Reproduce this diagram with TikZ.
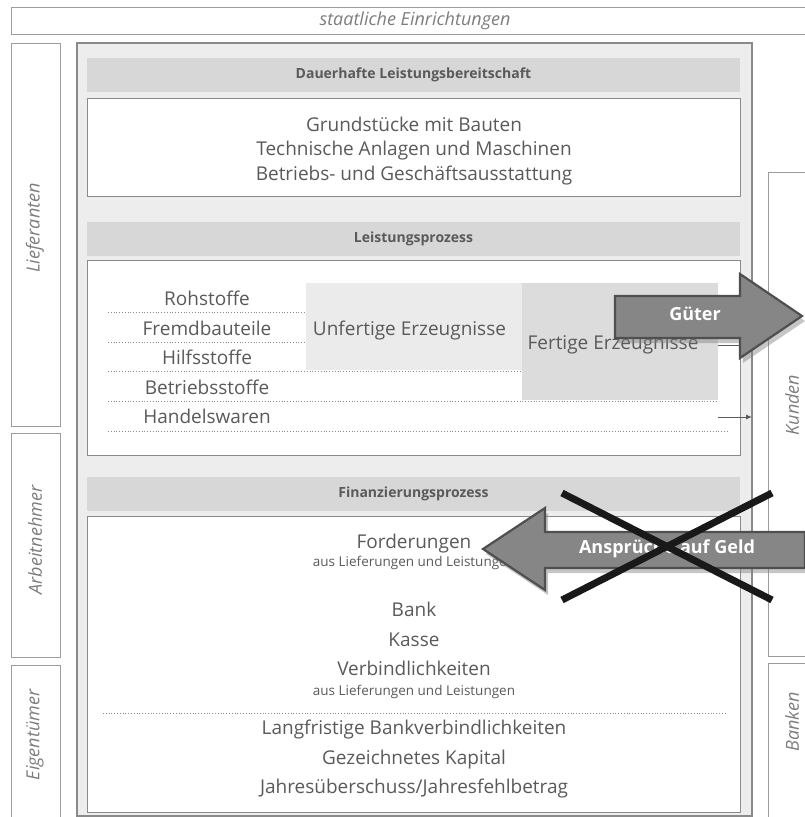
\documentclass[tikz,border=0pt]{standalone}
\usepackage{fontspec}
\setmainfont{Open Sans}
\usetikzlibrary{positioning,shadows,arrows.meta}

\definecolor{rahmen}{HTML}{8A8A8A}
\definecolor{flaeche}{HTML}{EDEDED}
\definecolor{kopf}{HTML}{D7D7D7}
\definecolor{schrift}{HTML}{5A5A5A}
\definecolor{kursiv}{HTML}{7D7D7D}
\definecolor{zelle}{HTML}{EBEBEB}
\definecolor{zelledunkel}{HTML}{DCDCDC}
\definecolor{pfeil}{HTML}{868686}
\definecolor{pfeilrand}{HTML}{4F4F4F}

\tikzset{
	aussen/.style={draw=rahmen!85, line width=0.8pt},
	kopfzeile/.style={fill=kopf, text=schrift, font=\fontsize{14}{16}\selectfont\bfseries, minimum width=653pt, minimum height=34pt, inner sep=0pt},
	feld/.style={fill=white, draw=rahmen, line width=1pt},
	eintrag/.style={text=schrift, font=\fontsize{19}{22}\selectfont, inner sep=0pt, text height=14pt, text depth=4pt},
	zusatz/.style={text=schrift, font=\fontsize{13.5}{15}\selectfont, inner sep=0pt, text height=10pt, text depth=3pt},
	partner/.style={text=kursiv, font=\fontsize{18}{20}\selectfont\itshape, inner sep=0pt},
	punktlinie/.style={draw=rahmen, dotted, line width=0.8pt},
	grosspfeil/.style={fill=pfeil, draw=pfeilrand, line width=2.2pt, line join=miter, drop shadow={opacity=0.45, shadow xshift=3pt, shadow yshift=-5pt}},
	pfeiltext/.style={text=white, font=\fontsize{18}{20}\selectfont\bfseries, inner sep=0pt},
}

\begin{document}
\begin{tikzpicture}[x=1pt,y=-1pt]
	\useasboundingbox (0,0) rectangle (805,817);
	\clip (0,0) rectangle (805,817);

	\draw[aussen] (11,7) rectangle (812,34);
	\node[partner] (se) at (415,21) {staatliche Einrichtungen};

	\draw[aussen] (11,43) rectangle (60,426);
	\node[partner, rotate=90] (lief) at (35,228) {Lieferanten};
	\draw[aussen] (11,433) rectangle (60,657);
	\node[partner, rotate=90] (arb) at (35,540) {Arbeitnehmer};
	\draw[aussen] (11,665) rectangle (60,822);
	\node[partner, rotate=90] (eig) at (35,735) {Eigentümer};

	\draw[aussen] (768,172) rectangle (812,656);
	\node[partner, rotate=90] (kund) at (792,405) {Kunden};
	\draw[aussen] (768,663) rectangle (812,822);
	\node[partner, rotate=90] (bank) at (792,722) {Banken};

	\draw[draw=rahmen, line width=1.2pt, fill=flaeche] (77,43) rectangle (752,816);

	\node[kopfzeile] (h1) at (413.5,75) {Dauerhafte Leistungsbereitschaft};
	\draw[feld] (87,98) rectangle (740,196);
	\node[eintrag] (a1) at (414,126) {Grundstücke mit Bauten};
	\node[eintrag, below=6.5pt of a1] (a2) {Technische Anlagen und Maschinen};
	\node[eintrag, below=6.5pt of a2] (a3) {Betriebs- und Geschäftsausstattung};

	\node[kopfzeile] (h2) at (413.5,238.5) {Leistungsprozess};
	\draw[feld] (87,260) rectangle (740,455);
	\node[fill=zelle, minimum width=216pt, minimum height=87pt, inner sep=0pt] (uf) at (414,326.5) {};
	\node[fill=zelledunkel, minimum width=196pt, minimum height=117pt, inner sep=0pt, anchor=north west] (fe) at (522,283) {};
	\node[eintrag] (uft) at (409.5,330) {Unfertige Erzeugnisse};
	\node[eintrag] (fet) at (613,344) {Fertige Erzeugnisse};

	\node[eintrag] (b1) at (207,300) {Rohstoffe};
	\node[eintrag, below=12pt of b1] (b2) {Fremdbauteile};
	\node[eintrag, below=11pt of b2] (b3) {Hilfsstoffe};
	\node[eintrag, below=11pt of b3] (b4) {Betriebsstoffe};
	\node[eintrag, below=11pt of b4] (b5) {Handelswaren};

	\draw[punktlinie] (108,312) -- (uf.west |- 0,312);
	\draw[punktlinie] (108,342) -- (uf.west |- 0,342);
	\draw[punktlinie] (108,371) -- (fe.west |- 0,371);
	\draw[punktlinie] (108,401) -- (fe.east |- 0,401);
	\draw[punktlinie] (108,431) -- (728,431);

	\coordinate (rk) at (740,345);
	\coordinate (mk) at (752,417);
	\draw[schrift, line width=1pt] (fe.east |- rk) -- (rk);
	\draw[schrift, line width=1pt, -{Latex[length=6pt,width=5pt]}] (fe.east |- mk) -- (mk);

	\node[kopfzeile] (h3) at (413.5,493.5) {Finanzierungsprozess};
	\draw[feld] (87,516) rectangle (740,812);
	\node[eintrag] (c1) at (414,543) {Forderungen};
	\node[zusatz, below=4pt of c1] (c1z) {aus Lieferungen und Leistungen};
	\node[eintrag] (c2) at (414,611) {Bank};
	\node[eintrag, below=12pt of c2] (c3) {Kasse};
	\node[eintrag, below=11pt of c3] (c4) {Verbindlichkeiten};
	\node[zusatz, below=5pt of c4] (c4z) {aus Lieferungen und Leistungen};
	\draw[punktlinie] (103,713) -- (726,713);
	\node[eintrag] (d1) at (414,729) {Langfristige Bankverbindlichkeiten};
	\node[eintrag, below=12pt of d1] (d2) {Gezeichnetes Kapital};
	\node[eintrag, below=11pt of d2] (d3) {Jahresüberschuss/Jahresfehlbetrag};

	\draw[grosspfeil] (615,296) -- (740,296) -- (740,274) -- (802,316) -- (740,358) -- (740,338) -- (615,338) -- cycle;
	\node[pfeiltext] (gu) at (695,314) {Güter};

	\draw[grosspfeil] (805,532) -- (545,532) -- (545,508) -- (483,549) -- (545,590) -- (545,568) -- (805,568) -- cycle;
	\node[pfeiltext] (ag) at (667,549) {Ansprüche auf Geld};

	\draw[line width=7pt, black!90] (562,493) -- (772,600);
	\draw[line width=7pt, black!90] (772,493) -- (562,600);
\end{tikzpicture}
\end{document}
